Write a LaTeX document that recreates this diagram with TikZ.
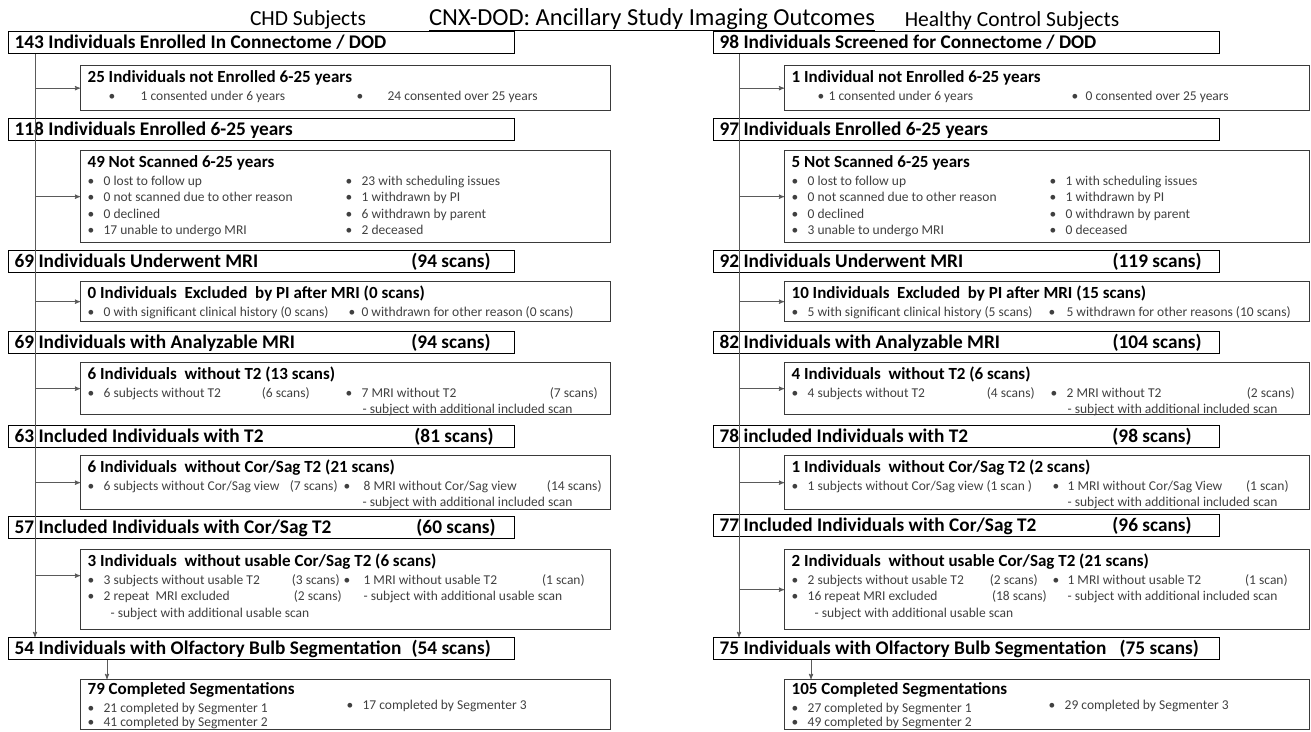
\documentclass[tikz,border=0pt]{standalone}
\usepackage{fontspec}
\setmainfont{Carlito}
\usepackage{tikz}
\usetikzlibrary{arrows}
\usetikzlibrary{positioning}
\definecolor{bodygray}{HTML}{404040}
\definecolor{boxgray}{HTML}{3A3A3A}
\definecolor{linegray}{HTML}{5A5A5A}
\tikzset{
    mainbox/.style={
           rectangle,
           draw=black, line width=1.3pt,
           anchor=north west,
           minimum width=506pt,
           minimum height=22pt,
           text width=494pt,
           text height=14.5pt, text depth=3.5pt,
           inner xsep=6pt, inner ysep=2pt,
           align=flush left,
           font=\fontsize{19.3}{22}\selectfont\bfseries,
           },
    subbox/.style={
           rectangle,
           draw=boxgray, line width=1.3pt,
           anchor=north west,
           inner xsep=7pt, inner ysep=0pt,
           },
    arr/.style={->, >=stealth', draw=linegray, line width=0.9pt},
}
% bullet with its gap
\newcommand{\bul}{\makebox[16pt][l]{\textbullet}}
% box content: [first baseline], height, width, heading, bullet rows
\newcommand{\subtext}[5][17pt]{\begin{minipage}[t][#2][t]{#3}\rule{0pt}{#1}{\fontsize{17}{20}\selectfont\bfseries #4}\par\vspace{1.5pt}{\fontsize{13.5}{16.3}\selectfont\color{bodygray}#5\par}\end{minipage}}

\begin{document}
\begin{tikzpicture}[x=1pt,y=-1pt]
 \useasboundingbox (0,0) rectangle (1311,731);

 % headings on top
 \node[anchor=base,font=\fontsize{21.5}{24}\selectfont] (tCHD) at (308,25) {CHD Subjects};
 \node[anchor=base,font=\fontsize{24.5}{28}\selectfont] (tMain) at (652,25)
 {\underline{CNX-DOD: Ancillary Study Imaging Outcomes}};
 \node[anchor=base,font=\fontsize{21.5}{24}\selectfont] (tHC) at (1012,26) {Healthy Control Subjects};

 % CHD column: main steps
 \node[mainbox] (cM1) at (8,31) {143 Individuals Enrolled In Connectome / DOD};
 \node[mainbox] (cM2) at (8,118) {118 Individuals Enrolled 6-25 years};
 \node[mainbox] (cM3) at (8,250) {\makebox[476pt][l]{69 Individuals Underwent MRI\hfill(94 scans)}};
 \node[mainbox] (cM4) at (8,331) {\makebox[476pt][l]{69 Individuals with Analyzable MRI\hfill(94 scans)}};
 \node[mainbox] (cM5) at (8,425) {\makebox[479pt][l]{63 Included Individuals with T2\hfill(81 scans)}};
 \node[mainbox] (cM6) at (8,516) {\makebox[481pt][l]{57 Included Individuals with Cor/Sag T2\hfill(60 scans)}};
 \node[mainbox] (cM7) at (8,637) {\makebox[476pt][l]{54 Individuals with Olfactory Bulb Segmentation\hfill(54 scans)}};

 % CHD column: side boxes
 \node[subbox] (cS1) at (80,65) {\subtext{45pt}{516pt}{25 Individuals not Enrolled 6-25 years}{%
 \hspace*{21pt}\makebox[248pt][l]{\makebox[32pt][l]{\textbullet}1 consented under 6 years}\makebox[31pt][l]{\textbullet}24 consented over 25 years}};
 \node[subbox] (cS2) at (80,150) {\subtext{92pt}{516pt}{49 Not Scanned 6-25 years}{%
 \makebox[258pt][l]{\bul 0 lost to follow up}\bul 23 with scheduling issues\\
 \makebox[258pt][l]{\bul 0 not scanned due to other reason}\bul 1 withdrawn by PI\\
 \makebox[258pt][l]{\bul 0 declined}\bul 6 withdrawn by parent\\
 \makebox[258pt][l]{\bul 17 unable to undergo MRI}\bul 2 deceased}};
 \node[subbox] (cS3) at (80,281) {\subtext{40pt}{516pt}{0 Individuals\ \ Excluded\ \ by PI after MRI (0 scans)}{%
 \makebox[261pt][l]{\bul 0 with significant clinical history (0 scans)}\makebox[13pt][l]{\textbullet}0 withdrawn for other reason (0 scans)}};
 \node[subbox] (cS4) at (80,362) {\subtext{52pt}{516pt}{6 Individuals\ \ without T2 (13 scans)}{%
 \makebox[258pt][l]{\makebox[222pt][l]{\bul 6 subjects without T2\hfill(6 scans)}}\makebox[252pt][l]{\bul 7 MRI without T2\hfill(7 scans)}\\
 \hspace*{275pt}- subject with additional included scan}};
 \node[subbox] (cS5) at (80,455) {\subtext{54pt}{516pt}{6 Individuals\ \ without Cor/Sag T2 (21 scans)}{%
 \makebox[256pt][l]{\makebox[250pt][l]{\bul 6 subjects without Cor/Sag view\hfill(7 scans)}}\makebox[258pt][l]{\makebox[20pt][l]{\textbullet}8 MRI without Cor/Sag view\hfill(14 scans)}\\
 \hspace*{275pt}- subject with additional included scan}};
 \node[subbox] (cS6) at (80,549) {\subtext{80pt}{516pt}{3 Individuals\ \ without usable Cor/Sag T2 (6 scans)}{%
 \makebox[256pt][l]{\makebox[252pt][l]{\bul 3 subjects without usable T2\hfill(3 scans)}}\makebox[241pt][l]{\makebox[20pt][l]{\textbullet}1 MRI without usable T2\hfill(1 scan)}\\
 \makebox[276pt][l]{\makebox[254pt][l]{\bul 2 repeat\ \ MRI\ excluded\hfill(2 scans)}}- subject with additional usable scan\\
 \hspace*{23pt}- subject with additional usable scan}};
 \node[subbox] (cS7) at (80,679) {\subtext[15pt]{50pt}{516pt}{79 Completed Segmentations}{%
 \makebox[259pt][l]{\bul 21 completed by Segmenter 1}\raisebox{3pt}{\bul 17 completed by Segmenter 3}\\[-2pt]
 \bul 41 completed by Segmenter 2}};

 % Healthy control column: main steps
 \node[mainbox] (hM1) at (713,31) {98 Individuals Screened for Connectome / DOD};
 \node[mainbox] (hM2) at (713,118) {97 Individuals Enrolled 6-25 years};
 \node[mainbox] (hM3) at (713,250) {\makebox[482pt][l]{92 Individuals Underwent MRI\hfill(119 scans)}};
 \node[mainbox] (hM4) at (713,331) {\makebox[482pt][l]{82 Individuals with Analyzable MRI\hfill(104 scans)}};
 \node[mainbox] (hM5) at (713,425) {\makebox[472pt][l]{78 included Individuals with T2\hfill(98 scans)}};
 \node[mainbox] (hM6) at (713,514) {\makebox[472pt][l]{77 Included Individuals with Cor/Sag T2\hfill(96 scans)}};
 \node[mainbox] (hM7) at (713,637) {\makebox[479pt][l]{75 Individuals with Olfactory Bulb Segmentation\hfill(75 scans)}};

 % Healthy control column: side boxes
 \node[subbox] (hS1) at (784,65) {\subtext{45pt}{511pt}{1 Individual not Enrolled 6-25 years}{%
 \hspace*{26pt}\makebox[254pt][l]{\makebox[11pt][l]{\textbullet}1 consented under 6 years}\makebox[14pt][l]{\textbullet}0 consented over 25 years}};
 \node[subbox] (hS2) at (784,150) {\subtext{92pt}{511pt}{5 Not Scanned 6-25 years}{%
 \makebox[258pt][l]{\bul 0 lost to follow up}\bul 1 with scheduling issues\\
 \makebox[258pt][l]{\bul 0 not scanned due to other reason}\bul 1 withdrawn by PI\\
 \makebox[258pt][l]{\bul 0 declined}\bul 0 withdrawn by parent\\
 \makebox[258pt][l]{\bul 3 unable to undergo MRI}\bul 0 deceased}};
 \node[subbox] (hS3) at (784,281) {\subtext{40pt}{511pt}{10 Individuals\ \ Excluded\ \ by PI after MRI (15 scans)}{%
 \makebox[257pt][l]{\bul 5 with significant clinical history (5 scans)}\makebox[18pt][l]{\textbullet}5 withdrawn for other reasons (10 scans)}};
 \node[subbox] (hS4) at (784,362) {\subtext{52pt}{511pt}{4 Individuals\ \ without T2 (6 scans)}{%
 \makebox[259pt][l]{\makebox[243pt][l]{\bul 4 subjects without T2\hfill(4 scans)}}\makebox[244pt][l]{\bul 2 MRI without T2\hfill(2 scans)}\\
 \hspace*{276pt}- subject with additional included scan}};
 \node[subbox] (hS5) at (784,455) {\subtext{54pt}{511pt}{1 Individuals\ \ without Cor/Sag T2 (2 scans)}{%
 \makebox[261pt][l]{\bul 1 subjects without Cor/Sag view (1 scan )}\makebox[236pt][l]{\makebox[15pt][l]{\textbullet}1 MRI without Cor/Sag View\hfill(1 scan)}\\
 \hspace*{276pt}- subject with additional included scan}};
 \node[subbox] (hS6) at (784,549) {\subtext{80pt}{511pt}{2 Individuals\ \ without usable Cor/Sag T2 (21 scans)}{%
 \makebox[261pt][l]{\makebox[246pt][l]{\bul 2 subjects without usable T2\hfill(2 scans)}}\makebox[235pt][l]{\makebox[15pt][l]{\textbullet}1 MRI without usable T2\hfill(1 scan)}\\
 \makebox[276pt][l]{\makebox[255pt][l]{\bul 16 repeat MRI excluded\hfill(18 scans)}}- subject with additional included scan\\
 \hspace*{23pt}- subject with additional usable scan}};
 \node[subbox] (hS7) at (784,679) {\subtext[15pt]{50pt}{511pt}{105 Completed Segmentations}{%
 \makebox[257pt][l]{\bul 27 completed by Segmenter 1}\raisebox{3pt}{\bul 29 completed by Segmenter 3}\\[-2pt]
 \bul 49 completed by Segmenter 2}};

 % trunk lines and branches
 \coordinate (cTop) at ([xshift=27pt]cM1.south west);
 \coordinate (hTop) at ([xshift=26pt]hM1.south west);
 \coordinate (cSeg) at ([xshift=27pt]cS7.north west);
 \coordinate (hSeg) at ([xshift=27pt]hS7.north west);
 \coordinate (cIn6) at ([yshift=14pt]cS6.west);
 \draw[arr] (cTop) -- (cTop |- cM7.north);
 \draw[arr] (hTop) -- (hTop |- hM7.north);
 \foreach \s in {S1,S2,S3,S4,S5}{
   \draw[arr] (cTop |- c\s.west) -- (c\s.west);
   \draw[arr] (hTop |- h\s.west) -- (h\s.west);
 }
 \draw[arr] (cTop |- cIn6) -- (cIn6);
 \draw[arr] (hTop |- hS6.west) -- (hS6.west);
 \draw[arr] (cSeg |- cM7.south) -- (cSeg);
 \draw[arr] (hSeg |- hM7.south) -- (hSeg);
\end{tikzpicture}
\end{document}
